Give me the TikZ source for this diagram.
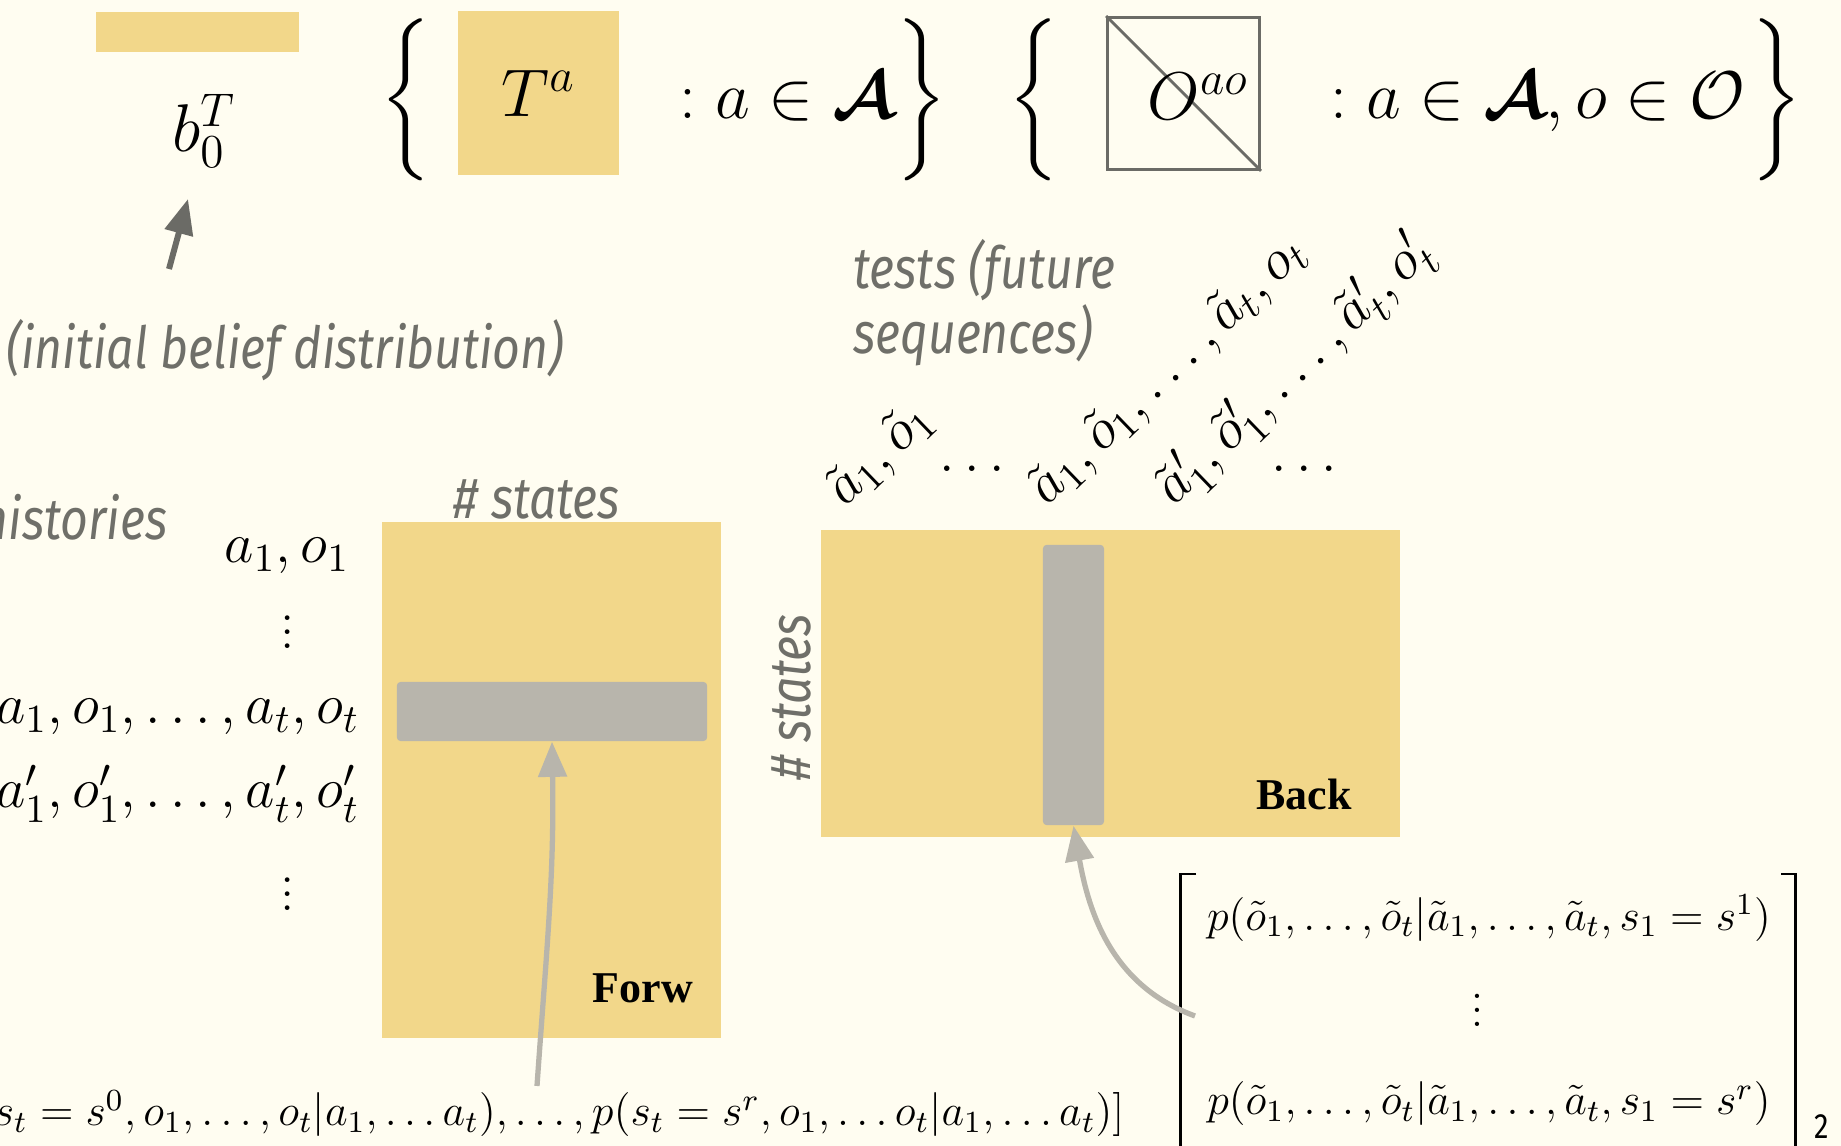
\RequirePackage{fix-cm}
\documentclass[tikz,border=0pt]{standalone}
\usepackage{amsmath,amssymb}
\usepackage{fontspec}
\usepackage{tikz}
\usetikzlibrary{shapes,arrows,arrows.meta,positioning,calc}
\newfontfamily\lblfont[FakeStretch=0.83]{Fira Sans}
\newfontfamily\tagfont{Liberation Serif}
\definecolor{cream}{HTML}{FFFDF1}
\definecolor{matyellow}{HTML}{F2D78A}
\definecolor{slicegray}{HTML}{B8B5AC}
\definecolor{lblgray}{HTML}{6F6F69}
\definecolor{darkarrow}{HTML}{6B6B66}

\begin{document}
\begin{tikzpicture}[x=0.01cm, y=0.01cm,
    mat/.style={rectangle, fill=matyellow, inner sep=0pt},
    slice/.style={rectangle, fill=slicegray, rounded corners=1pt, inner sep=0pt},
    lbl/.style={text=lblgray, font=\lblfont\itshape\fontsize{16.5}{15.4}\selectfont, inner sep=0pt},
    tag/.style={font=\tagfont\bfseries\fontsize{12.5}{15}\selectfont, inner sep=0pt},
    big/.style={font=\fontsize{19.2}{23}\selectfont, inner sep=0pt},
    seq/.style={font=\fontsize{16.2}{19}\selectfont, inner sep=0pt},
    prob/.style={font=\fontsize{12.5}{15}\selectfont, inner sep=0pt},
    arrow/.style={-{Triangle[length=10pt,width=8pt]}, line width=1.5pt, draw=slicegray}]
  \fill[cream] (0,0) rectangle (1841,-1146);
  \useasboundingbox (0,0) rectangle (1841,-1146);

  % top row: model parameters
  \node[mat, minimum width=2.03cm, minimum height=0.40cm] (b0bar) at (197.5,-32) {};
  \node[big] (b0) at (204,-131) {$b_0^T$};
  \node[big] (lb1) at (408,-100) {$\left\{\vrule height 18.5pt depth 18.5pt width 0pt\right.$};
  \node[mat, big, minimum width=1.61cm, minimum height=1.64cm] (tbox) at (538.5,-93) {$T^a$};
  \node[big, anchor=base west] (tset) at (679,-119) {$: a \in \boldsymbol{\mathcal{A}}$};
  \node[big] (rb1) at (920,-100) {$\left.\vrule height 18.5pt depth 18.5pt width 0pt\right\}$};
  \node[big] (lb2) at (1036,-100) {$\left\{\vrule height 18.5pt depth 18.5pt width 0pt\right.$};
  \node[rectangle, draw=darkarrow, line width=0.8pt, minimum width=1.52cm, minimum height=1.52cm] (obox) at (1183.5,-93.5) {};
  \draw[darkarrow, line width=0.8pt] (obox.north west) -- (obox.south east);
  \node[big] (olbl) at (1198,-96) {$O^{ao}$};
  \node[big, anchor=base west] (oset) at (1330,-119) {$: a \in \boldsymbol{\mathcal{A}}, o \in \mathcal{O}$};
  \node[big] (rb2) at (1775,-100) {$\left.\vrule height 18.5pt depth 18.5pt width 0pt\right\}$};

  \node[lbl] (init) at (285,-350) {(initial belief distribution)};
  \coordinate (inittail) at (169,-269);
  \coordinate (inittip) at (188,-199);
  \draw[arrow, draw=darkarrow, line width=1.7pt] (inittail) -- (inittip);

  % forward matrix
  \node[lbl, anchor=east] (hist) at (168,-517) {histories};
  \node[seq, anchor=base east] (h1) at (350,-563) {$a_1, o_1$};
  \node[seq] (hd1) at (288,-622) {$\vdots$};
  \node[seq, anchor=base east] (h2) at (360,-724) {$a_1, o_1, \ldots, a_t, o_t$};
  \node[seq, anchor=base east] (h3) at (360,-808) {$a'_1, o'_1, \ldots, a'_t, o'_t$};
  \node[seq] (hd2) at (288,-884) {$\vdots$};
  \node[lbl] (fstates) at (537,-499) {\# states};
  \node[mat, minimum width=3.39cm, minimum height=5.16cm] (forw) at (551.5,-780) {};
  \node[slice, minimum width=3.10cm, minimum height=0.59cm] (fslice) at (552,-711.5) {};
  \node[tag] (fname) at (643,-988) {Forw};
  \node[prob, anchor=base east] (fvec) at (1125,-1126)
    {$[p(s_t = s^0, o_1, \ldots, o_t|a_1, \ldots a_t), \ldots, p(s_t = s^r, o_1, \ldots o_t|a_1, \ldots a_t)]$};
  \coordinate (ftail) at (537,-1086);
  \draw[arrow] (ftail) to[out=86, in=-89] (fslice.south);

  % backward matrix
  \node[lbl, anchor=west, align=left] (tests) at (853,-303) {tests (future\\sequences)};
  \node[seq, rotate=44, anchor=base west] (t1) at (845,-508) {$\tilde a_1, \tilde o_1$};
  \node[seq] (td1) at (972,-469) {$\ldots$};
  \node[seq, rotate=44, anchor=base west] (t2) at (1047,-507) {$\tilde a_1, \tilde o_1, \ldots, \tilde a_t, o_t$};
  \node[seq, rotate=44, anchor=base west] (t3) at (1174,-507) {$\tilde a'_1, \tilde o'_1, \ldots, \tilde a'_t, o'_t$};
  \node[seq] (td2) at (1304,-469) {$\ldots$};
  \node[mat, minimum width=5.79cm, minimum height=3.07cm] (back) at (1110.5,-683.5) {};
  \node[slice, minimum width=0.61cm, minimum height=2.80cm] (bslice) at (1073.5,-685) {};
  \node[lbl, rotate=90] (bstates) at (791,-697) {\# states};
  \node[tag] (bname) at (1304,-794) {Back};

  \node[prob] (m1) at (1489,-918) {$p(\tilde o_1, \ldots, \tilde o_t|\tilde a_1, \ldots, \tilde a_t, s_1 = s^1)$};
  \node[prob] (md) at (1477,-1000) {$\vdots$};
  \node[prob] (m2) at (1489,-1104) {$p(\tilde o_1, \ldots, \tilde o_t|\tilde a_1, \ldots, \tilde a_t, s_1 = s^r)$};
  \draw[line width=0.85pt] (1196,-874) -- (1180,-874) -- (1180,-1160);
  \draw[line width=0.85pt] (1781,-874) -- (1795,-874) -- (1795,-1160);
  \node[font=\lblfont\fontsize{10}{12}\selectfont, inner sep=0pt] (mnorm) at (1822,-1127) {2};
  \coordinate (btail) at (1195,-1016);
  \draw[arrow] (btail) to[out=160, in=-80] (bslice.south);
\end{tikzpicture}
\end{document}
